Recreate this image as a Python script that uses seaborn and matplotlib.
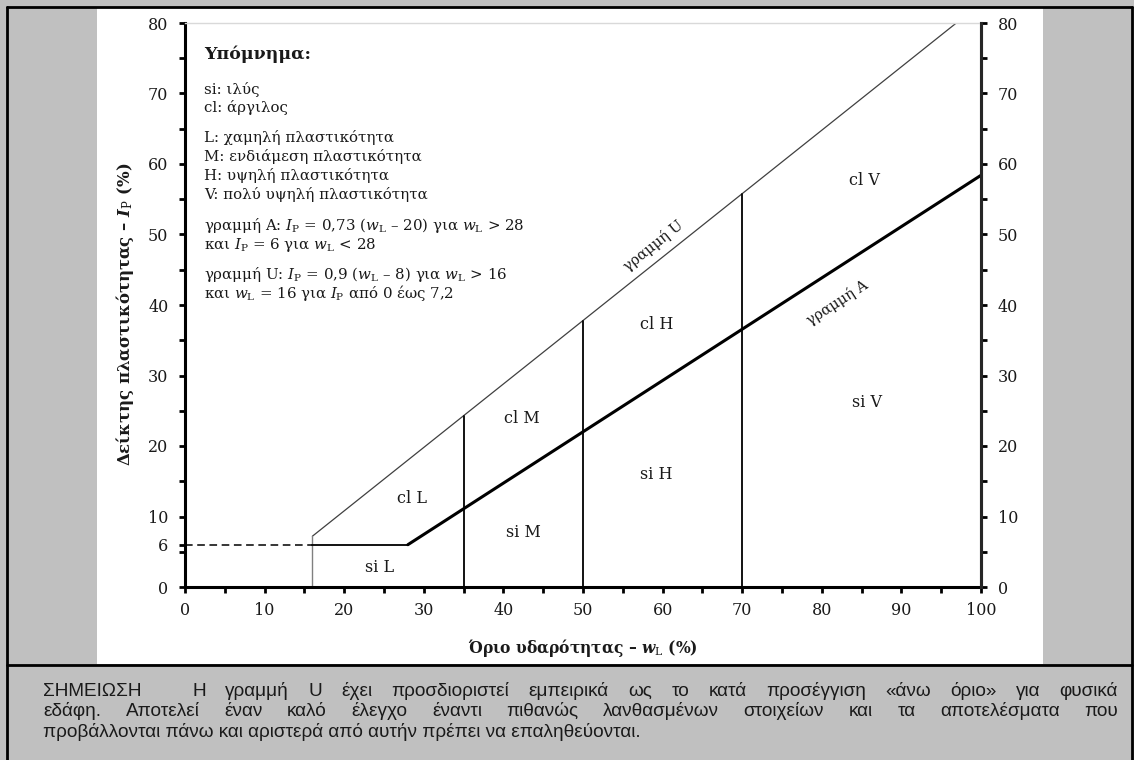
import matplotlib
matplotlib.use("Agg")
import matplotlib.pyplot as plt
from matplotlib.lines import Line2D
from matplotlib.patches import Rectangle
from matplotlib.ticker import MultipleLocator
import seaborn as sns

# boundary lines of the plasticity chart (w_L, I_P)
u_wl = [16, 96.9]
u_ip = [7.2, 80]
a_wl = [28, 100]
a_ip = [6, 58.4]
flat_wl = [16, 28]
flat_ip = [6, 6]
dash_wl = [0, 16]
dash_ip = [6, 6]
div_wl = [35, 50, 70]          # vertical dividers
div_top = [24.3, 37.8, 55.8]   # where they meet line U
zones = ["si L", "cl L", "si M", "cl M", "si H", "cl H", "si V", "cl V"]

legend_lines = [
    "si: ιλύς",
    "cl: άργιλος",
    "L: χαμηλή πλαστικότητα",
    "M: ενδιάμεση πλαστικότητα",
    "H: υψηλή πλαστικότητα",
    "V: πολύ υψηλή πλαστικότητα",
    r"γραμμή A: $I_\mathrm{P}$ = 0,73 ($w_\mathrm{L}$ – 20) για $w_\mathrm{L}$ > 28",
    r"και $I_\mathrm{P}$ = 6 για $w_\mathrm{L}$ < 28",
    r"γραμμή U: $I_\mathrm{P}$ = 0,9 ($w_\mathrm{L}$ – 8) για $w_\mathrm{L}$ > 16",
    r"και $w_\mathrm{L}$ = 16 για $I_\mathrm{P}$ από 0 έως 7,2",
]

note_head = "ΣΗΜΕΙΩΣΗ"
note_lines = [
    "Η γραμμή U έχει προσδιοριστεί εμπειρικά ως το κατά προσέγγιση «άνω όριο» για φυσικά",
    "εδάφη. Αποτελεί έναν καλό έλεγχο έναντι πιθανώς λανθασμένων στοιχείων και τα αποτελέσματα που",
    "προβάλλονται πάνω και αριστερά από αυτήν πρέπει να επαληθεύονται.",
]

sns.set_theme(style="ticks")
plt.rcParams["font.family"] = ["DejaVu Serif"]
plt.rcParams["mathtext.fontset"] = "custom"
plt.rcParams["mathtext.rm"] = "DejaVu Serif"
plt.rcParams["mathtext.it"] = "DejaVu Serif:italic"
plt.rcParams["mathtext.bf"] = "DejaVu Serif:bold"
plt.rcParams["mathtext.bfit"] = "DejaVu Serif:italic:bold"

W, H = 1134, 760
fig = plt.figure(figsize=(W / 100, H / 100), dpi=100)
fig.patch.set_facecolor("#c0c0c0")
TXT = "#1a1a1a"


def fx(px):
    return px / W


def fy(py):
    return 1 - py / H


# white panel and frame
fig.add_artist(Rectangle((fx(97), fy(664)), fx(1043) - fx(97), fy(7) - fy(664),
                         transform=fig.transFigure, facecolor="white", edgecolor="none", zorder=-10))
for xs, ys in [([7, 7], [7, 760]), ([1132, 1132], [7, 760]), ([7, 1132], [7, 7]), ([7, 1132], [665, 665])]:
    fig.add_artist(Line2D([fx(x) for x in xs], [fy(y) for y in ys], transform=fig.transFigure,
                          color="black", linewidth=2))

ax = fig.add_axes([fx(185), fy(587), fx(981) - fx(185), fy(23) - fy(587)])
ax.set_facecolor("none")
ax.set_xlim(0, 100)
ax.set_ylim(0, 80)

kw = dict(ax=ax, sort=False, estimator=None, legend=False)
sns.lineplot(x=u_wl, y=u_ip, color="#404040", linewidth=0.9, **kw)
sns.lineplot(x=[u_wl[0], u_wl[0]], y=[0, u_ip[0]], color="#808080", linewidth=1.0, **kw)
sns.lineplot(x=flat_wl, y=flat_ip, color="black", linewidth=1.3, **kw)
sns.lineplot(x=a_wl, y=a_ip, color="black", linewidth=2.2, **kw)
sns.lineplot(x=dash_wl, y=dash_ip, color="black", linewidth=1.1, linestyle=(0, (5, 3)), **kw)
for x, top in zip(div_wl, div_top):
    sns.lineplot(x=[x, x], y=[0, top], color="black", linewidth=1.3, **kw)

zone_pos = [(24.4, 2.8), (28.5, 12.6), (42.5, 7.7), (42.3, 23.9),
            (59.2, 16.0), (59.2, 37.2), (85.7, 26.2), (85.3, 57.7)]
for name, (x, y) in zip(zones, zone_pos):
    ax.text(x, y, name, ha="center", va="center", fontsize=11.5, color=TXT)

ax.text(58.8, 48.4, "γραμμή U", rotation=38.6, ha="center", va="center", fontsize=10.5, color=TXT,
        rotation_mode="anchor")
ax.text(82.0, 40.3, "γραμμή A", rotation=32.9, ha="center", va="center", fontsize=10.5, color=TXT,
        rotation_mode="anchor")

# axes styling
for s in ["left", "bottom", "right"]:
    ax.spines[s].set_linewidth(2.2)
    ax.spines[s].set_color("black")
ax.spines["top"].set_color("#d9d9d9")
ax.spines["top"].set_linewidth(1)

ax.set_xticks(range(0, 101, 10))
ax.xaxis.set_minor_locator(MultipleLocator(5))
ax.set_yticks([0, 6] + list(range(10, 81, 10)))
ax.yaxis.set_minor_locator(MultipleLocator(5))
ax.yaxis.get_major_ticks()[1].tick1line.set_visible(False)
ax.tick_params(which="both", direction="out", length=4, width=2, color="black")
ax.tick_params(axis="y", pad=8, labelsize=11.5, labelcolor=TXT)
ax.tick_params(axis="x", pad=7, labelsize=11.5, labelcolor=TXT)

ax2 = ax.twinx()
ax2.set_ylim(0, 80)
ax2.set_yticks(range(0, 81, 10))
ax2.yaxis.set_minor_locator(MultipleLocator(5))
for s in ["left", "bottom", "top"]:
    ax2.spines[s].set_visible(False)
ax2.spines["right"].set_linewidth(2.2)
ax2.tick_params(which="both", direction="out", length=4, width=2, color="black")
ax2.tick_params(axis="y", pad=8, labelsize=11.5, labelcolor=TXT)

ax.set_xlabel(r"Όριο υδαρότητας – $\mathbfit{w}_\mathrm{L}$ (%)", fontsize=11.2, fontweight="bold",
              va="center", color=TXT)
ax.xaxis.set_label_coords(0.5, (fy(648) - fy(587)) / (fy(23) - fy(587)))
ax.set_ylabel(r"Δείκτης πλαστικότητας – $\mathbfit{I}_\mathrm{P}$ (%)", fontsize=11.9, fontweight="bold",
              va="center", color=TXT)
ax.yaxis.set_label_coords((fx(125) - fx(185)) / (fx(981) - fx(185)), (fy(314) - fy(587)) / (fy(23) - fy(587)))

# legend block
fig.text(fx(204), fy(59), "Υπόμνημα:", fontsize=12.5, fontweight="bold", va="baseline", color=TXT)
baselines = [94, 112, 142, 161, 180, 199, 230, 249, 279, 298]
for txt, b in zip(legend_lines, baselines):
    fig.text(fx(204), fy(b), txt, fontsize=10.8, va="baseline", color=TXT)

# justified note text
renderer = fig.canvas.get_renderer()
note_kw = dict(fontsize=13.7, family="Liberation Sans", va="baseline", color=TXT)


def justify(line, x0, x1, base):
    words = line.split()
    arts = [fig.text(0, fy(base), w, **note_kw) for w in words]
    widths = [a.get_window_extent(renderer).width for a in arts]
    gap = (x1 - x0 - sum(widths)) / (len(words) - 1)
    x = x0
    for a, w in zip(arts, widths):
        a.set_x(fx(x))
        x += w + gap


fig.text(fx(43), fy(696), note_head, **note_kw)
justify(note_lines[0], 192, 1118, 696)
justify(note_lines[1], 43, 1118, 716)
fig.text(fx(43), fy(737), note_lines[2], **note_kw)

fig.savefig("out.png", dpi=100, facecolor=fig.get_facecolor())
